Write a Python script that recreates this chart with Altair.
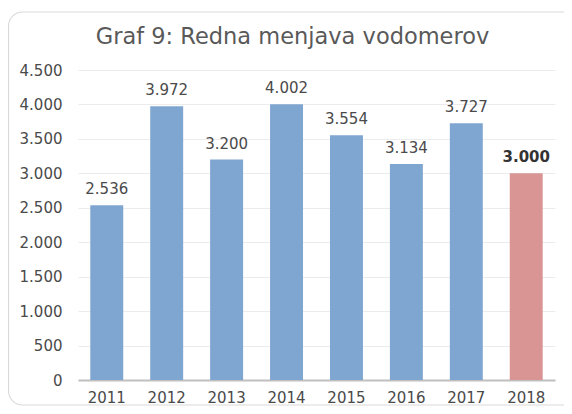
import altair as alt
import pandas as pd

years = ["2011", "2012", "2013", "2014", "2015", "2016", "2017", "2018"]
values = [2536, 3972, 3200, 4002, 3554, 3134, 3727, 3000]
highlight = [False, False, False, False, False, False, False, True]
y_ticks = [0, 500, 1000, 1500, 2000, 2500, 3000, 3500, 4000, 4500]
title_text = "Graf 9: Redna menjava vodomerov"

def fmt(v):
    return f"{v:,}".replace(",", ".")

df = pd.DataFrame({
    "year": years,
    "value": values,
    "hl": highlight,
    "label": [fmt(v) for v in values],
})

W, H = 477, 310
FONT = "DejaVu Sans"
TXT = "#4a4a4a"

x_enc = alt.X("year:O", sort=years,
              scale=alt.Scale(paddingInner=0.45, paddingOuter=0.205),
              axis=alt.Axis(title=None, labelAngle=0, labelFontSize=15,
                            labelColor=TXT, labelFont=FONT, labelPadding=10,
                            ticks=False, domainColor="#bfbfbf", domainWidth=2))
y_enc = alt.Y("value:Q",
              scale=alt.Scale(domain=[0, 4500], nice=False),
              axis=alt.Axis(title=None, values=y_ticks, labelFontSize=15,
                            labelColor=TXT, labelFont=FONT, labelPadding=16,
                            ticks=False, domain=False, gridColor="#ececec",
                            labelOverlap=False,
                            labelExpr="replace(format(datum.value, ','), ',', '.')"))

base = alt.Chart(df).encode(x=x_enc, y=y_enc)

bars = base.mark_bar(opacity=1).encode(
    color=alt.Color("hl:N", scale=alt.Scale(domain=[False, True], range=["#7fa6d1", "#d99594"]), legend=None),
)

labels = base.transform_filter("!datum.hl").mark_text(
    dy=-16, fontSize=15, color=TXT, font=FONT
).encode(text="label:N")

labels_hl = base.transform_filter("datum.hl").mark_text(
    dy=-16, fontSize=15, color="#333333", font=FONT, fontWeight="bold"
).encode(text="label:N")

one = pd.DataFrame({"a": [0]})

border = alt.Chart(one).mark_rect(
    fill=None, stroke="#d9d9d9", strokeWidth=1.2, cornerRadius=14,
    x=-69.5, x2=W + 80, y=-58, y2=335
)

title = alt.Chart(one).mark_text(
    text=title_text, font=FONT, fontSize=22.5, color="#595959",
    align="center", baseline="alphabetic", x=214.5, y=-26
)

chart = alt.layer(border, bars, labels, labels_hl, title).properties(
    width=W, height=H,
    autosize=alt.AutoSizeParams(type="none"),
    padding={"left": 70, "top": 62, "right": 9, "bottom": 26},
).configure_view(stroke=None)

chart.save("out.html", embed_options={"renderer": "svg", "actions": False})
